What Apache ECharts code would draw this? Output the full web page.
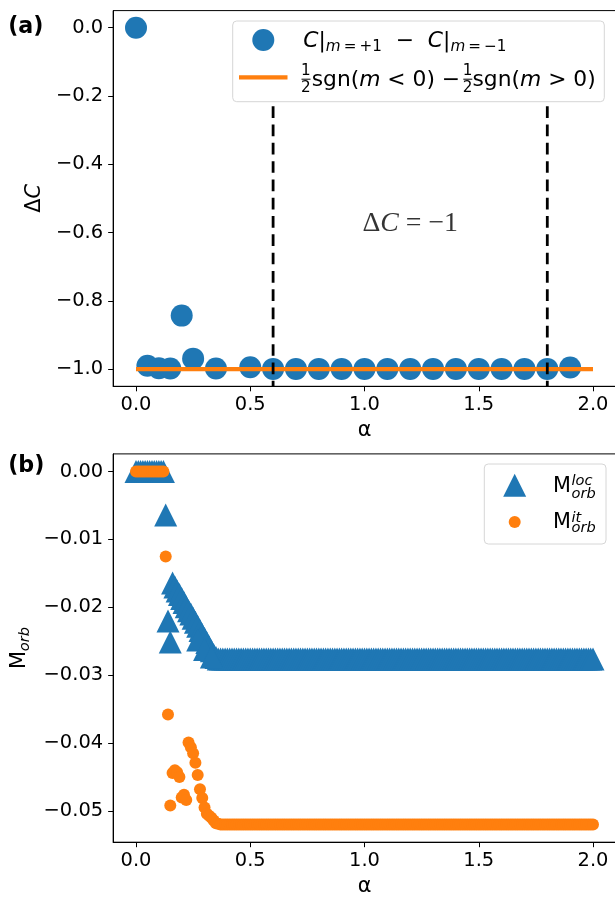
<!DOCTYPE html>
<html>
<head>
<meta charset="utf-8">
<script src="https://cdn.jsdelivr.net/npm/echarts@6/dist/echarts.min.js"></script>
<style>
html, body { margin: 0; padding: 0; background: #fff; }
#main { width: 615px; height: 897px; }
</style>
</head>
<body>
<div id="main"></div>
<script>
// ---- panel (a) data ----
var alphaA = [0.00, 0.05, 0.10, 0.15, 0.20, 0.25, 0.35, 0.50, 0.60, 0.70, 0.80,
              0.90, 1.00, 1.10, 1.20, 1.30, 1.40, 1.50, 1.60, 1.70, 1.80, 1.90];
var deltaC = [0, -0.990, -0.997, -0.998, -0.843, -0.969, -0.998, -0.994, -0.999, -0.999, -0.999,
              -0.999, -0.999, -0.999, -0.999, -0.999, -0.999, -0.999, -0.999, -0.999, -0.999, -0.995];
var stepAlpha = [0, 2];
var stepVal = [-1, -1];
var transAlpha = [0.6, 1.8];
var transRange = [-1.05, -0.23];
var annoAlpha = [1.2];
var annoVal = [-0.6];

// ---- panel (b) data ----
var alphaB = [
  0.00, 0.01, 0.02, 0.03, 0.04, 0.05, 0.06, 0.07, 0.08, 0.09,
  0.10, 0.11, 0.12, 0.13, 0.14, 0.15, 0.16, 0.17, 0.18, 0.19,
  0.20, 0.21, 0.22, 0.23, 0.24, 0.25, 0.26, 0.27, 0.28, 0.29,
  0.30, 0.31, 0.32, 0.33, 0.34, 0.35, 0.36, 0.37, 0.38, 0.39,
  0.40, 0.41, 0.42, 0.43, 0.44, 0.45, 0.46, 0.47, 0.48, 0.49,
  0.50, 0.51, 0.52, 0.53, 0.54, 0.55, 0.56, 0.57, 0.58, 0.59,
  0.60, 0.61, 0.62, 0.63, 0.64, 0.65, 0.66, 0.67, 0.68, 0.69,
  0.70, 0.71, 0.72, 0.73, 0.74, 0.75, 0.76, 0.77, 0.78, 0.79,
  0.80, 0.81, 0.82, 0.83, 0.84, 0.85, 0.86, 0.87, 0.88, 0.89,
  0.90, 0.91, 0.92, 0.93, 0.94, 0.95, 0.96, 0.97, 0.98, 0.99,
  1.00, 1.01, 1.02, 1.03, 1.04, 1.05, 1.06, 1.07, 1.08, 1.09,
  1.10, 1.11, 1.12, 1.13, 1.14, 1.15, 1.16, 1.17, 1.18, 1.19,
  1.20, 1.21, 1.22, 1.23, 1.24, 1.25, 1.26, 1.27, 1.28, 1.29,
  1.30, 1.31, 1.32, 1.33, 1.34, 1.35, 1.36, 1.37, 1.38, 1.39,
  1.40, 1.41, 1.42, 1.43, 1.44, 1.45, 1.46, 1.47, 1.48, 1.49,
  1.50, 1.51, 1.52, 1.53, 1.54, 1.55, 1.56, 1.57, 1.58, 1.59,
  1.60, 1.61, 1.62, 1.63, 1.64, 1.65, 1.66, 1.67, 1.68, 1.69,
  1.70, 1.71, 1.72, 1.73, 1.74, 1.75, 1.76, 1.77, 1.78, 1.79,
  1.80, 1.81, 1.82, 1.83, 1.84, 1.85, 1.86, 1.87, 1.88, 1.89,
  1.90, 1.91, 1.92, 1.93, 1.94, 1.95, 1.96, 1.97, 1.98, 1.99,
  2.00];
var mLoc = [
  0, 0, 0, 0, 0, 0, 0, 0, 0, 0,
  0, 0, 0, -0.0064, -0.0220, -0.0251, -0.0164, -0.0170, -0.0176, -0.0181,
  -0.0187, -0.0193, -0.0199, -0.0205, -0.0210, -0.0216, -0.0222, -0.0228, -0.0234, -0.0240,
  -0.0246, -0.0252, -0.0258, -0.0264, -0.0270, -0.0274, -0.0276, -0.0276, -0.0276, -0.0276,
  -0.0276, -0.0276, -0.0276, -0.0276, -0.0276, -0.0276, -0.0276, -0.0276, -0.0276, -0.0276,
  -0.0276, -0.0276, -0.0276, -0.0276, -0.0276, -0.0276, -0.0276, -0.0276, -0.0276, -0.0276,
  -0.0276, -0.0276, -0.0276, -0.0276, -0.0276, -0.0276, -0.0276, -0.0276, -0.0276, -0.0276,
  -0.0276, -0.0276, -0.0276, -0.0276, -0.0276, -0.0276, -0.0276, -0.0276, -0.0276, -0.0276,
  -0.0276, -0.0276, -0.0276, -0.0276, -0.0276, -0.0276, -0.0276, -0.0276, -0.0276, -0.0276,
  -0.0276, -0.0276, -0.0276, -0.0276, -0.0276, -0.0276, -0.0276, -0.0276, -0.0276, -0.0276,
  -0.0276, -0.0276, -0.0276, -0.0276, -0.0276, -0.0276, -0.0276, -0.0276, -0.0276, -0.0276,
  -0.0276, -0.0276, -0.0276, -0.0276, -0.0276, -0.0276, -0.0276, -0.0276, -0.0276, -0.0276,
  -0.0276, -0.0276, -0.0276, -0.0276, -0.0276, -0.0276, -0.0276, -0.0276, -0.0276, -0.0276,
  -0.0276, -0.0276, -0.0276, -0.0276, -0.0276, -0.0276, -0.0276, -0.0276, -0.0276, -0.0276,
  -0.0276, -0.0276, -0.0276, -0.0276, -0.0276, -0.0276, -0.0276, -0.0276, -0.0276, -0.0276,
  -0.0276, -0.0276, -0.0276, -0.0276, -0.0276, -0.0276, -0.0276, -0.0276, -0.0276, -0.0276,
  -0.0276, -0.0276, -0.0276, -0.0276, -0.0276, -0.0276, -0.0276, -0.0276, -0.0276, -0.0276,
  -0.0276, -0.0276, -0.0276, -0.0276, -0.0276, -0.0276, -0.0276, -0.0276, -0.0276, -0.0276,
  -0.0276, -0.0276, -0.0276, -0.0276, -0.0276, -0.0276, -0.0276, -0.0276, -0.0276, -0.0276,
  -0.0276, -0.0276, -0.0276, -0.0276, -0.0276, -0.0276, -0.0276, -0.0276, -0.0276, -0.0276,
  -0.0276];
var mIt = [
  0, 0, 0, 0, 0, 0, 0, 0, 0, 0,
  0, 0, 0, -0.0125, -0.0358, -0.0492, -0.0444, -0.0440, -0.0443, -0.0450,
  -0.0480, -0.0476, -0.0484, -0.0399, -0.0406, -0.0415, -0.0429, -0.0447, -0.0468, -0.0481,
  -0.0495, -0.0504, -0.0507, -0.0510, -0.0514, -0.0518, -0.0519, -0.0520, -0.0520, -0.0520,
  -0.0520, -0.0520, -0.0520, -0.0520, -0.0520, -0.0520, -0.0520, -0.0520, -0.0520, -0.0520,
  -0.0520, -0.0520, -0.0520, -0.0520, -0.0520, -0.0520, -0.0520, -0.0520, -0.0520, -0.0520,
  -0.0520, -0.0520, -0.0520, -0.0520, -0.0520, -0.0520, -0.0520, -0.0520, -0.0520, -0.0520,
  -0.0520, -0.0520, -0.0520, -0.0520, -0.0520, -0.0520, -0.0520, -0.0520, -0.0520, -0.0520,
  -0.0520, -0.0520, -0.0520, -0.0520, -0.0520, -0.0520, -0.0520, -0.0520, -0.0520, -0.0520,
  -0.0520, -0.0520, -0.0520, -0.0520, -0.0520, -0.0520, -0.0520, -0.0520, -0.0520, -0.0520,
  -0.0520, -0.0520, -0.0520, -0.0520, -0.0520, -0.0520, -0.0520, -0.0520, -0.0520, -0.0520,
  -0.0520, -0.0520, -0.0520, -0.0520, -0.0520, -0.0520, -0.0520, -0.0520, -0.0520, -0.0520,
  -0.0520, -0.0520, -0.0520, -0.0520, -0.0520, -0.0520, -0.0520, -0.0520, -0.0520, -0.0520,
  -0.0520, -0.0520, -0.0520, -0.0520, -0.0520, -0.0520, -0.0520, -0.0520, -0.0520, -0.0520,
  -0.0520, -0.0520, -0.0520, -0.0520, -0.0520, -0.0520, -0.0520, -0.0520, -0.0520, -0.0520,
  -0.0520, -0.0520, -0.0520, -0.0520, -0.0520, -0.0520, -0.0520, -0.0520, -0.0520, -0.0520,
  -0.0520, -0.0520, -0.0520, -0.0520, -0.0520, -0.0520, -0.0520, -0.0520, -0.0520, -0.0520,
  -0.0520, -0.0520, -0.0520, -0.0520, -0.0520, -0.0520, -0.0520, -0.0520, -0.0520, -0.0520,
  -0.0520, -0.0520, -0.0520, -0.0520, -0.0520, -0.0520, -0.0520, -0.0520, -0.0520, -0.0520,
  -0.0520, -0.0520, -0.0520, -0.0520, -0.0520, -0.0520, -0.0520, -0.0520, -0.0520, -0.0520,
  -0.0520];
// a few loc points off the main branch
var locExtraAlpha = [0.27, 0.30, 0.33];
var locExtraVal = [-0.0248, -0.0262, -0.0273];

// tick labels
var xTicks = [0, 0.5, 1, 1.5, 2];
var yTicksA = [0, -0.2, -0.4, -0.6, -0.8, -1.0];
var yTicksB = [0, -0.01, -0.02, -0.03, -0.04, -0.05];

var FONT = 'DejaVu Sans';
var BLUE = '#1f77b4';
var ORANGE = '#ff7f0e';
var TICK_FS = 19.44;
var THIN = '\u2009';

function zip(xs, ys) {
  var out = [];
  for (var i = 0; i < xs.length; i++) out.push([xs[i], ys[i]]);
  return out;
}
function fmt(d) {
  return function (v) {
    if (Math.abs(v) < 1e-12) return (0).toFixed(d);
    return v.toFixed(d).replace('-', '\u2212');
  };
}

function xAxisCfg(gi) {
  return {
    type: 'value', gridIndex: gi, min: -0.1, max: 2.1,
    name: 'α', nameLocation: 'middle', nameGap: 34,
    nameTextStyle: { fontFamily: FONT, fontSize: 20.8, color: '#000' },
    axisLine: { show: true, onZero: false, lineStyle: { color: '#000', width: 1 } },
    axisTick: { show: true, length: 5, customValues: xTicks, lineStyle: { color: '#000', width: 1 } },
    axisLabel: { customValues: xTicks, formatter: fmt(1), margin: 9, fontFamily: FONT, fontSize: TICK_FS, color: '#000' },
    splitLine: { show: false }
  };
}
function yAxisCfg(gi, min, max, ticks, dec, name, rich, gap) {
  return {
    type: 'value', gridIndex: gi, min: min, max: max,
    name: name, nameLocation: 'middle', nameRotate: 90, nameGap: gap,
    nameTextStyle: { rich: rich },
    axisLine: { show: true, onZero: false, lineStyle: { color: '#000', width: 1 } },
    axisTick: { show: true, length: 5, customValues: ticks, lineStyle: { color: '#000', width: 1 } },
    axisLabel: { customValues: ticks, formatter: fmt(dec), margin: 10, fontFamily: FONT, fontSize: TICK_FS, color: '#000' },
    splitLine: { show: false }
  };
}

// baseline-positioned text helper for the hand-made legends
function txt(x, base, fs, text, extra) {
  var st = { text: text, fontFamily: FONT, fontSize: fs, fill: '#000', align: 'left', verticalAlign: 'middle' };
  for (var k in extra) st[k] = extra[k];
  return { type: 'text', x: x, y: base - 0.346 * fs, z: 20, style: st };
}

var locPts = zip(alphaB, mLoc).concat(zip(locExtraAlpha, locExtraVal));
var itPts = zip(alphaB, mIt);

var dashSeries = transAlpha.map(function (a) {
  return {
    type: 'line', xAxisIndex: 0, yAxisIndex: 0, symbol: 'none', silent: true, z: 4,
    data: [[a, transRange[1]], [a, transRange[0]]],
    lineStyle: { color: '#000', width: 2.8, type: [11.7, 6.6] }
  };
});

var LEG_FS = 21.8, SUB_FS = 15.2;
var legRich = {
  i: { fontFamily: FONT, fontSize: LEG_FS, fontStyle: 'italic', verticalAlign: 'top' },
  n: { fontFamily: FONT, fontSize: LEG_FS, verticalAlign: 'top' },
  si: { fontFamily: FONT, fontSize: SUB_FS, fontStyle: 'italic', verticalAlign: 'top', padding: [9.2, 0, 0, 0] },
  s: { fontFamily: FONT, fontSize: SUB_FS, verticalAlign: 'top', padding: [9.2, 0, 0, 0] }
};
var B_FS = 20.8, BS_FS = 14.6;

var graphics = [
  // panel labels
  { type: 'text', x: 8.2, y: 27.5, z: 20, style: { text: '(a)', fontFamily: FONT, fontSize: 22.2, fontWeight: 'bold', fill: '#000', verticalAlign: 'middle' } },
  { type: 'text', x: 8.2, y: 466, z: 20, style: { text: '(b)', fontFamily: FONT, fontSize: 22.2, fontWeight: 'bold', fill: '#000', verticalAlign: 'middle' } },

  // legend (a)
  { type: 'rect', z: 19, shape: { x: 232.7, y: 21, width: 371.6, height: 80.7, r: 4 }, style: { fill: '#fff', stroke: '#d6d6d6', lineWidth: 1 } },
  { type: 'circle', z: 20, shape: { cx: 263.3, cy: 40, r: 11 }, style: { fill: BLUE } },
  { type: 'line', z: 20, shape: { x1: 239, y1: 77.3, x2: 287.5, y2: 77.3 }, style: { stroke: ORANGE, lineWidth: 4.2 } },
  { type: 'text', z: 20, x: 303.3, y: 48.3 - 0.846 * LEG_FS, style: {
      text: '{i|C}{n||}{si|m}{s|' + THIN + '=' + THIN + '+1}{n|  \u2212  }{i|C}{n||}{si|m}{s|' + THIN + '=' + THIN + '\u22121}',
      rich: legRich, fill: '#000', align: 'left', verticalAlign: 'top' } },
  // fraction 1/2 pieces
  txt(301.0, 76.5, SUB_FS, '1'),
  { type: 'line', z: 20, shape: { x1: 301.5, y1: 79.2, x2: 310.5, y2: 79.2 }, style: { stroke: '#000', lineWidth: 1 } },
  txt(301.0, 93.0, SUB_FS, '2'),
  { type: 'text', z: 20, x: 311.7, y: 87.3 - 0.846 * LEG_FS, style: {
      text: '{n|sgn(}{i|m}{n| < 0) \u2212}', rich: legRich, fill: '#000', align: 'left', verticalAlign: 'top' } },
  txt(462.8, 76.5, SUB_FS, '1'),
  { type: 'line', z: 20, shape: { x1: 463.3, y1: 79.2, x2: 472.3, y2: 79.2 }, style: { stroke: '#000', lineWidth: 1 } },
  txt(462.8, 93.0, SUB_FS, '2'),
  { type: 'text', z: 20, x: 472.5, y: 87.3 - 0.846 * LEG_FS, style: {
      text: '{n|sgn(}{i|m}{n| > 0)}', rich: legRich, fill: '#000', align: 'left', verticalAlign: 'top' } },

  // legend (b)
  { type: 'rect', z: 19, shape: { x: 484.3, y: 464, width: 121.7, height: 80, r: 4 }, style: { fill: '#fff', stroke: '#d6d6d6', lineWidth: 1 } },
  { type: 'polygon', z: 20, shape: { points: [[514.7, 473.8], [503.2, 496.8], [526.2, 496.8]] }, style: { fill: BLUE } },
  { type: 'circle', z: 20, shape: { cx: 514.7, cy: 522, r: 6 }, style: { fill: ORANGE } },
  txt(553, 493.3, B_FS, 'M'),
  txt(571.5, 486.3, BS_FS, 'loc', { fontStyle: 'italic' }),
  txt(571.5, 499.5, BS_FS, 'orb', { fontStyle: 'italic' }),
  txt(553, 530, B_FS, 'M'),
  txt(571.5, 523, BS_FS, 'it', { fontStyle: 'italic' }),
  txt(571.5, 533.5, BS_FS, 'orb', { fontStyle: 'italic' })
];

var option = {
  animation: false,
  backgroundColor: '#fff',
  grid: [
    { left: 113.15, top: 10.6, width: 502.7, height: 375.7, show: true, borderColor: '#000', borderWidth: 1, backgroundColor: 'transparent', outerBoundsMode: 'none' },
    { left: 113.15, top: 453.9, width: 502.7, height: 388.3, show: true, borderColor: '#000', borderWidth: 1, backgroundColor: 'transparent', outerBoundsMode: 'none' }
  ],
  xAxis: [xAxisCfg(0), xAxisCfg(1)],
  yAxis: [
    yAxisCfg(0, -1.05, 0.05, yTicksA, 1, '{d|Δ}{i|C}', {
      d: { fontFamily: FONT, fontSize: 20.8, color: '#000' },
      i: { fontFamily: FONT, fontSize: 20.8, fontStyle: 'italic', color: '#000' }
    }, 68),
    yAxisCfg(1, -0.0546, 0.0026, yTicksB, 2, '{m|M}{s|orb}', {
      m: { fontFamily: FONT, fontSize: 20.8, color: '#000', verticalAlign: 'top' },
      s: { fontFamily: FONT, fontSize: 14.6, fontStyle: 'italic', color: '#000', verticalAlign: 'top', padding: [8.5, 0, 0, 0] }
    }, 76)
  ],
  series: [
    {
      name: 'C|m=+1 − C|m=−1', type: 'scatter', xAxisIndex: 0, yAxisIndex: 0,
      data: zip(alphaA, deltaC), symbol: 'circle', symbolSize: 22, z: 2,
      itemStyle: { color: BLUE, opacity: 1 }
    },
    {
      name: '½sgn(m<0) − ½sgn(m>0)', type: 'line', xAxisIndex: 0, yAxisIndex: 0,
      data: zip(stepAlpha, stepVal), symbol: 'none', z: 3,
      lineStyle: { color: ORANGE, width: 4.2 }
    }
  ].concat(dashSeries).concat([
    {
      type: 'scatter', xAxisIndex: 0, yAxisIndex: 0, silent: true, z: 5,
      data: zip(annoAlpha, annoVal), symbolSize: 1, itemStyle: { color: 'rgba(0,0,0,0)' },
      label: {
        show: true, position: 'inside', offset: [0, -9.4],
        formatter: '{d|Δ}{i|C}{n| = \u22121}',
        rich: {
          d: { fontFamily: 'Liberation Serif', fontSize: 27.8, color: '#000' },
          i: { fontFamily: 'Liberation Serif', fontSize: 27.8, fontStyle: 'italic', color: '#000' },
          n: { fontFamily: 'Liberation Serif', fontSize: 27.8, color: '#000' }
        }
      }
    },
    {
      name: 'M loc orb', type: 'scatter', xAxisIndex: 1, yAxisIndex: 1,
      data: locPts, symbol: 'triangle', symbolSize: 23, z: 2,
      itemStyle: { color: BLUE, opacity: 1 }
    },
    {
      name: 'M it orb', type: 'scatter', xAxisIndex: 1, yAxisIndex: 1,
      data: itPts, symbol: 'circle', symbolSize: 12, z: 3,
      itemStyle: { color: ORANGE, opacity: 1 }
    }
  ]),
  graphic: graphics
};

var chart = echarts.init(document.getElementById('main'));
chart.setOption(option);
</script>
</body>
</html>
